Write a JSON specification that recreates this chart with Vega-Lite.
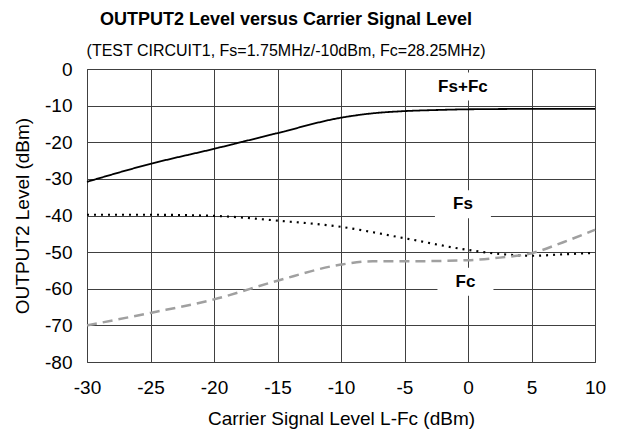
{
  "$schema": "https://vega.github.io/schema/vega-lite/v6.json",
  "width": 508,
  "height": 293,
  "autosize": {"type": "none"},
  "padding": {"left": 87, "top": 69, "right": 26, "bottom": 77},
  "background": "white",
  "config": {
    "font": "Liberation Sans",
    "view": {"stroke": "#404040", "strokeWidth": 1},
    "axis": {
      "gridColor": "#404040",
      "gridOpacity": 1,
      "gridWidth": 1,
      "domain": false,
      "ticks": false,
      "labelFont": "Liberation Sans",
      "labelFontSize": 19,
      "labelColor": "black",
      "titleFont": "Liberation Sans",
      "titleFontSize": 19,
      "titleFontWeight": "normal",
      "titleColor": "black",
      "labelOverlap": false,
      "labelFlush": false
    }
  },
  "title": {
    "text": "OUTPUT2 Level versus Carrier Signal Level",
    "subtitle": "(TEST CIRCUIT1, Fs=1.75MHz/-10dBm, Fc=28.25MHz)",
    "anchor": "middle",
    "dx": -55,
    "font": "Liberation Sans",
    "fontSize": 18,
    "fontWeight": "bold",
    "color": "black",
    "subtitleFont": "Liberation Sans",
    "subtitleFontSize": 16,
    "subtitleColor": "black",
    "subtitlePadding": 14,
    "offset": 1
  },
  "datasets": {
    "curves": [
      {"series": "Fs+Fc", "x": -30, "y": -30.8},
      {"series": "Fs+Fc", "x": -25, "y": -25.9},
      {"series": "Fs+Fc", "x": -20, "y": -21.8},
      {"series": "Fs+Fc", "x": -15, "y": -17.5},
      {"series": "Fs+Fc", "x": -10, "y": -13.3},
      {"series": "Fs+Fc", "x": -7.5, "y": -12.1},
      {"series": "Fs+Fc", "x": -5, "y": -11.5},
      {"series": "Fs+Fc", "x": -2.5, "y": -11.2},
      {"series": "Fs+Fc", "x": 0, "y": -11.0},
      {"series": "Fs+Fc", "x": 5, "y": -10.9},
      {"series": "Fs+Fc", "x": 10, "y": -10.9},
      {"series": "Fs", "x": -30, "y": -39.8},
      {"series": "Fs", "x": -25, "y": -39.8},
      {"series": "Fs", "x": -20, "y": -40.1},
      {"series": "Fs", "x": -15, "y": -41.4},
      {"series": "Fs", "x": -10, "y": -43.1},
      {"series": "Fs", "x": -5, "y": -46.2},
      {"series": "Fs", "x": 0, "y": -49.4},
      {"series": "Fs", "x": 2.5, "y": -50.5},
      {"series": "Fs", "x": 5, "y": -51.0},
      {"series": "Fs", "x": 7.5, "y": -50.6},
      {"series": "Fs", "x": 10, "y": -50.2},
      {"series": "Fc", "x": -30, "y": -70.0},
      {"series": "Fc", "x": -25, "y": -66.6},
      {"series": "Fc", "x": -20, "y": -62.9},
      {"series": "Fc", "x": -15, "y": -57.8},
      {"series": "Fc", "x": -10, "y": -53.4},
      {"series": "Fc", "x": -7.5, "y": -52.5},
      {"series": "Fc", "x": -5, "y": -52.5},
      {"series": "Fc", "x": 0, "y": -52.2},
      {"series": "Fc", "x": 2.5, "y": -51.5},
      {"series": "Fc", "x": 5, "y": -50.3},
      {"series": "Fc", "x": 7.5, "y": -47.3},
      {"series": "Fc", "x": 10, "y": -43.9}
    ],
    "labels": [
      {"label": "Fs+Fc", "x": -0.4, "y": -4.8},
      {"label": "Fs", "x": -0.4, "y": -36.9},
      {"label": "Fc", "x": -0.2, "y": -58.1}
    ]
  },
  "encoding": {
    "x": {"field": "x", "type": "quantitative", "scale": {"domain": [-30, 10]}, "axis": {"values": [-30, -25, -20, -15, -10, -5, 0, 5, 10], "labelExpr": "'' + datum.value", "title": "Carrier Signal Level L-Fc (dBm)", "labelPadding": 16, "titlePadding": 12}},
    "y": {"field": "y", "type": "quantitative", "scale": {"domain": [-80, 0]}, "axis": {"values": [-80, -70, -60, -50, -40, -30, -20, -10, 0], "labelExpr": "'' + datum.value", "title": "OUTPUT2 Level (dBm)", "labelPadding": 15, "titlePadding": 12}}
  },
  "layer": [
    {
      "data": {"name": "labels"},
      "mark": {"type": "point", "shape": "M-1,-0.5H1V0.5H-1Z", "filled": true, "color": "white", "opacity": 1, "size": 3136, "strokeWidth": 0}
    },
    {
      "data": {"name": "curves"},
      "mark": {"type": "line", "interpolate": "monotone"},
      "encoding": {
        "detail": {"field": "series"},
        "color": {"field": "series", "type": "nominal", "scale": {"domain": ["Fs+Fc", "Fs", "Fc"], "range": ["black", "black", "#a0a0a0"]}, "legend": null},
        "strokeDash": {"field": "series", "type": "nominal", "scale": {"domain": ["Fs+Fc", "Fs", "Fc"], "range": [[1, 0], [2, 5], [10, 6]]}, "legend": null},
        "strokeWidth": {"field": "series", "type": "nominal", "scale": {"domain": ["Fs+Fc", "Fs", "Fc"], "range": [1.8, 2.5, 2]}, "legend": null}
      }
    },
    {
      "data": {"name": "labels"},
      "mark": {"type": "text", "font": "Liberation Sans", "fontSize": 17, "fontWeight": "bold", "color": "black", "align": "center", "baseline": "middle"},
      "encoding": {
        "text": {"field": "label"}
      }
    }
  ]
}
